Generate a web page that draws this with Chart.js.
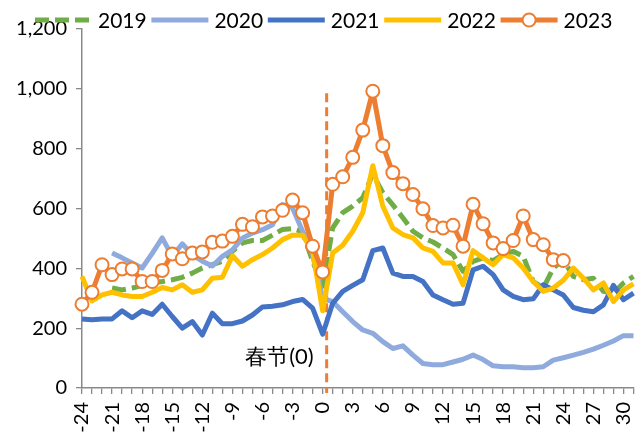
<!DOCTYPE html>
<html>
<head>
<meta charset="utf-8">
<script src="https://cdn.jsdelivr.net/npm/chart.js@4.4.1/dist/chart.umd.min.js"></script>
<style>
  html, body { margin: 0; padding: 0; background: #fff; }
</style>
</head>
<body>
<canvas id="chart" width="642" height="432"></canvas>
<script>
// days relative to Spring Festival
const days = [-24, -23, -22, -21, -20, -19, -18, -17, -16, -15, -14, -13, -12, -11, -10, -9, -8, -7, -6, -5, -4, -3, -2, -1,
  0, 1, 2, 3, 4, 5, 6, 7, 8, 9, 10, 11, 12, 13, 14, 15, 16, 17, 18, 19, 20, 21, 22, 23, 24, 25, 26, 27, 28, 29, 30, 31];

const years = ["2019", "2020", "2021", "2022", "2023"];

const v2019 = [null, null, null, 334, 328, 334, 343, 351, 356, 362, 370, 384, 401, 412, 423, 457, 485, 493, 493, 511, 530, 533, 522, 423,
  340, 535, 586, 608, 636, 715, 653, 612, 569, 524, 502, 488, 468, 446, 390, 423, 435, 426, 446, 457, 440, 356, 334, 401, 429, 373, 362, 367, 323, 317, 351, 373];
const v2020 = [null, null, null, 451, 435, 418, 401, 450, 502, 440, 482, 445, 424, 408, 440, 462, 501, 518, 529, 546, 613, 602, 524, 446,
  300, 289, 255, 222, 194, 183, 155, 132, 141, 110, 82, 78, 78, 87, 96, 110, 95, 74, 71, 71, 68, 68, 71, 93, 101, 110, 119, 130, 143, 157, 175, 175];
const v2021 = [231, 228, 231, 231, 258, 235, 258, 246, 280, 239, 200, 222, 177, 250, 215, 215, 224, 244, 271, 273, 278, 289, 296, 267,
  180, 283, 323, 343, 362, 459, 468, 384, 373, 373, 356, 311, 295, 280, 283, 395, 407, 379, 328, 306, 295, 298, 345, 328, 311, 269, 260, 255, 278, 343, 295, 317];
const v2022 = [373, 291, 311, 320, 311, 306, 306, 320, 336, 328, 345, 320, 328, 367, 370, 442, 407, 429, 446, 468, 496, 511, 511, 457,
  258, 451, 477, 524, 586, 743, 608, 535, 513, 502, 468, 457, 418, 418, 345, 459, 435, 412, 446, 435, 401, 356, 323, 334, 360, 401, 367, 328, 351, 289, 328, 348];
const v2023 = [280, 320, 412, 379, 398, 398, 356, 356, 393, 448, 432, 451, 455, 487, 491, 507, 547, 539, 572, 575, 594, 628, 586, 474,
  388, 681, 706, 771, 862, 992, 810, 720, 683, 647, 599, 543, 535, 544, 474, 614, 549, 485, 466, 493, 575, 496, 479, 429, 426,
  null, null, null, null, null, null, null];

const yTicks = [0, 200, 400, 600, 800, 1000, 1200];
const festDay = 0;
const festTop = 985;
const festLabel = "春节(0)";

const colors = ["#70AD47", "#8FAADC", "#4472C4", "#FFC000", "#ED7D31"];
const FONT = "Lato, 'DejaVu Sans', sans-serif";

function lineSet(label, data, color, order) {
  return {
    label, data, order,
    borderColor: color,
    backgroundColor: color,
    borderWidth: 5,
    tension: 0,
    pointRadius: 0,
    borderJoinStyle: "round",
    spanGaps: false
  };
}

const datasets = [
  Object.assign(lineSet(years[0], v2019, colors[0], 5), { borderDash: [14, 6] }),
  lineSet(years[1], v2020, colors[1], 4),
  lineSet(years[2], v2021, colors[2], 3),
  lineSet(years[3], v2022, colors[3], 2),
  Object.assign(lineSet(years[4], v2023, colors[4], 1), {
    pointRadius: 6.5, pointBorderWidth: 2, pointBackgroundColor: "#fff",
    pointBorderColor: colors[4], clip: 10
  })
];

// dashed marker at the festival day + the custom legend
const extras = {
  id: "extras",
  beforeDatasetsDraw(chart) {
    const { ctx, scales: { x, y }, chartArea } = chart;
    const px = x.getPixelForValue(days.indexOf(festDay)) + 4;
    ctx.save();
    ctx.strokeStyle = colors[4];
    ctx.lineWidth = 3;
    ctx.setLineDash([9, 5]);
    ctx.beginPath();
    ctx.moveTo(px, y.getPixelForValue(festTop));
    ctx.lineTo(px, chartArea.bottom + 5);
    ctx.stroke();
    ctx.restore();
  },
  afterDraw(chart) {
    const { ctx, scales: { x } } = chart;
    ctx.save();
    ctx.fillStyle = "#000";
    ctx.font = "22px " + FONT;
    ctx.textAlign = "right";
    ctx.textBaseline = "middle";
    ctx.fillText(festLabel, x.getPixelForValue(days.indexOf(festDay)) - 9, 357);

    // legend
    const x0 = 35, step = 116.4, len = 57, ly = 20;
    ctx.font = "21px " + FONT;
    ctx.textAlign = "left";
    chart.data.datasets.forEach((ds, i) => {
      const sx = x0 + i * step;
      ctx.strokeStyle = ds.borderColor;
      ctx.lineWidth = 5;
      ctx.setLineDash(ds.borderDash || []);
      ctx.beginPath();
      ctx.moveTo(sx, ly);
      ctx.lineTo(sx + len, ly);
      ctx.stroke();
      ctx.setLineDash([]);
      if (ds.pointRadius > 0) {
        ctx.beginPath();
        ctx.arc(sx + len / 2, ly, ds.pointRadius, 0, Math.PI * 2);
        ctx.fillStyle = ds.pointBackgroundColor;
        ctx.fill();
        ctx.lineWidth = ds.pointBorderWidth;
        ctx.strokeStyle = ds.pointBorderColor;
        ctx.stroke();
      }
      ctx.fillStyle = "#000";
      ctx.fillText(ds.label, sx + len + 6, ly + 1);
    });
    ctx.restore();
  }
};

const ctx = document.getElementById("chart").getContext("2d");
new Chart(ctx, {
  type: "line",
  data: { labels: days, datasets },
  options: {
    responsive: false,
    animation: false,
    devicePixelRatio: 1,
    layout: { padding: { top: 29, right: 4, left: 0, bottom: 0 } },
    plugins: { legend: { display: false }, tooltip: { enabled: false } },
    scales: {
      x: {
        grid: { drawOnChartArea: false, drawTicks: true, tickLength: 6, color: "#898989", lineWidth: 1.3 },
        border: { color: "#898989", width: 1.5 },
        ticks: {
          autoSkip: false, maxRotation: 90, minRotation: 90, padding: 8,
          color: "#000", font: { family: FONT, size: 20 },
          callback: (v, i) => ((days[i] + 24) % 3 === 0 ? String(days[i]) : "")
        },
        afterFit(s) { s.height = 44; s.paddingLeft = 0; s.paddingRight = 0; }
      },
      y: {
        min: 0, max: 1200,
        afterBuildTicks(s) { s.ticks = yTicks.map(v => ({ value: v })); },
        grid: { drawOnChartArea: false, drawTicks: true, tickLength: 6, color: "#898989", lineWidth: 1.3 },
        border: { color: "#898989", width: 1.5 },
        ticks: {
          padding: 9, color: "#000", font: { family: FONT, size: 20 },
          callback: v => v.toLocaleString("en-US")
        },
        afterFit(s) { s.width = 82; }
      }
    }
  },
  plugins: [extras]
});
</script>
</body>
</html>
